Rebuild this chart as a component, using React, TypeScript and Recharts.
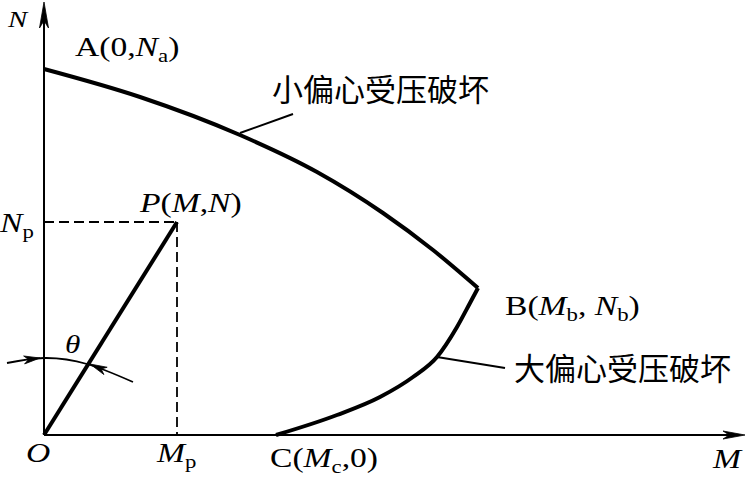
import React from 'react';
import { ComposedChart, Line, XAxis, YAxis, ReferenceDot } from 'recharts';

// ---- data (M, N in diagram units) ----
const upperCurve = [
  { M: 0, N: 366 },
  { M: 96, N: 338 },
  { M: 196, N: 300 },
  { M: 273, N: 263 },
  { M: 339, N: 222 },
  { M: 389, N: 185 },
  { M: 434, N: 147 },
];
const lowerCurve = [
  { M: 232, N: 0 },
  { M: 293, N: 20 },
  { M: 336, N: 38 },
  { M: 369, N: 58 },
  { M: 393, N: 78 },
  { M: 413, N: 108 },
  { M: 426, N: 132 },
  { M: 434, N: 147 },
];
const loadLine = [
  { M: 0, N: 0 },
  { M: 133, N: 213 },
];
const dashH = [
  { M: 0, N: 213 },
  { M: 133, N: 213 },
];
const dashV = [
  { M: 133, N: 213 },
  { M: 133, N: 0 },
];
const thetaArc = [
  { M: -37, N: 72 },
  { M: 0, N: 77 },
  { M: 43, N: 71 },
  { M: 89, N: 53 },
];
const leaderSmall = [
  { M: 196, N: 302 },
  { M: 249, N: 321 },
];
const leaderLarge = [
  { M: 393, N: 78 },
  { M: 461, N: 67 },
];
const axisX = [
  { M: 0, N: 0 },
  { M: 690, N: 0 },
];
const axisY = [
  { M: 0, N: 0 },
  { M: 0, N: 420 },
];

type Part = [string, 'r' | 'i' | 's'];
const labels: { M: number; N: number; parts: Part[]; size: number; cjk?: boolean }[] = [
  { M: -36, N: 408, parts: [['N', 'i']], size: 24 },
  { M: 31, N: 379, parts: [['A(0,', 'r'], ['N', 'i'], ['a', 's'], [')', 'r']], size: 28 },
  { M: 96, N: 223, parts: [['P', 'i'], ['(', 'r'], ['M', 'i'], [',', 'r'], ['N', 'i'], [')', 'r']], size: 28 },
  { M: -44, N: 203, parts: [['N', 'i'], ['p', 's']], size: 28 },
  { M: 21, N: 82, parts: [['θ', 'i']], size: 26 },
  { M: -18, N: -27, parts: [['O', 'i']], size: 28 },
  { M: 113, N: -27, parts: [['M', 'i'], ['p', 's']], size: 28 },
  { M: 226, N: -32, parts: [['C(', 'r'], ['M', 'i'], ['c', 's'], [',0)', 'r']], size: 28 },
  { M: 461, N: 120, parts: [['B(', 'r'], ['M', 'i'], ['b', 's'], [', ', 'r'], ['N', 'i'], ['b', 's'], [')', 'r']], size: 28 },
  { M: 228, N: 334, parts: [['小偏心受压破坏', 'r']], size: 31, cjk: true },
  { M: 470, N: 55, parts: [['大偏心受压破坏', 'r']], size: 31, cjk: true },
  { M: 669, N: -33, parts: [['M', 'i']], size: 28 },
];

const arrows = [
  { M: 0, N: 433, angle: -90, len: 26, half: 4.5 },
  { M: 701, N: 0, angle: 0, len: 22, half: 4 },
  { M: -4, N: 77, angle: -7, len: 16, half: 4 },
  { M: 46, N: 71, angle: 204, len: 17, half: 4 },
];

const SERIF = '"Liberation Serif", "Times New Roman", serif';
const CJK = '"Noto Sans CJK SC", sans-serif';

const makeText = (parts: Part[], size: number, cjk?: boolean) => (props: any) => {
  const { cx, cy } = props;
  const sub = Math.round(size * 0.68);
  const shift = Math.round(size * 0.2);
  const spans: React.ReactNode[] = [];
  let lowered = false;
  parts.forEach(([t, s], i) => {
    let dy = 0;
    if (s === 's' && !lowered) {
      dy = shift;
      lowered = true;
    } else if (s !== 's' && lowered) {
      dy = -shift;
      lowered = false;
    }
    spans.push(
      <tspan
        key={i}
        dy={dy || undefined}
        fontStyle={s === 'i' ? 'italic' : 'normal'}
        fontSize={s === 's' ? sub : size}
      >
        {t}
      </tspan>
    );
  });
  const sx = cjk ? 1 : 1.2;
  return (
    <text
      x={0}
      y={0}
      transform={`translate(${cx},${cy}) scale(${sx},1)`}
      fontFamily={cjk ? CJK : SERIF}
      fontSize={size}
      fill="#000"
      style={{ whiteSpace: 'pre' }}
    >
      {spans}
    </text>
  );
};

const makeArrow = (angle: number, len: number, half: number) => (props: any) => {
  const { cx, cy } = props;
  const a = (angle * Math.PI) / 180;
  const dx = Math.cos(a);
  const dy = Math.sin(a);
  const bx = cx - len * dx;
  const by = cy - len * dy;
  const nx = cx - 0.72 * len * dx;
  const ny = cy - 0.72 * len * dy;
  const pts = `${cx},${cy} ${bx - half * dy},${by + half * dx} ${nx},${ny} ${bx + half * dy},${by - half * dx}`;
  return <polygon points={pts} fill="#000" stroke="#000" strokeWidth={0.8} />;
};

const lineProps = {
  dataKey: 'N',
  dot: false,
  activeDot: false,
  isAnimationActive: false,
  stroke: '#000',
  legendType: 'none' as const,
};

export default function App() {
  return (
    <div style={{ position: 'absolute', left: 0, top: 0, background: '#fff' }}>
      <ComposedChart width={749} height={478} margin={{ top: 0, right: 0, bottom: 0, left: 0 }}>
        <XAxis type="number" dataKey="M" domain={[-44, 705]} allowDataOverflow hide />
        <YAxis type="number" domain={[-43, 435]} allowDataOverflow hide />
        <Line {...lineProps} data={axisX} type="linear" strokeWidth={2} />
        <Line {...lineProps} data={axisY} type="linear" strokeWidth={2} />
        <Line {...lineProps} data={dashH} type="linear" strokeWidth={1.8} strokeDasharray="10 5" />
        <Line {...lineProps} data={dashV} type="linear" strokeWidth={1.8} strokeDasharray="10 5" />
        <Line {...lineProps} data={loadLine} type="linear" strokeWidth={4} />
        <Line {...lineProps} data={upperCurve} type="monotone" strokeWidth={4} />
        <Line {...lineProps} data={lowerCurve} type="monotone" strokeWidth={4} />
        <Line {...lineProps} data={thetaArc} type="natural" strokeWidth={1.8} />
        <Line {...lineProps} data={leaderSmall} type="linear" strokeWidth={2} />
        <Line {...lineProps} data={leaderLarge} type="linear" strokeWidth={2} />
        {arrows.map((a, i) => (
          <ReferenceDot key={'a' + i} x={a.M} y={a.N} r={1} ifOverflow="visible" shape={makeArrow(a.angle, a.len, a.half)} />
        ))}
        {labels.map((l, i) => (
          <ReferenceDot key={'l' + i} x={l.M} y={l.N} r={1} ifOverflow="visible" shape={makeText(l.parts, l.size, l.cjk)} />
        ))}
      </ComposedChart>
    </div>
  );
}
